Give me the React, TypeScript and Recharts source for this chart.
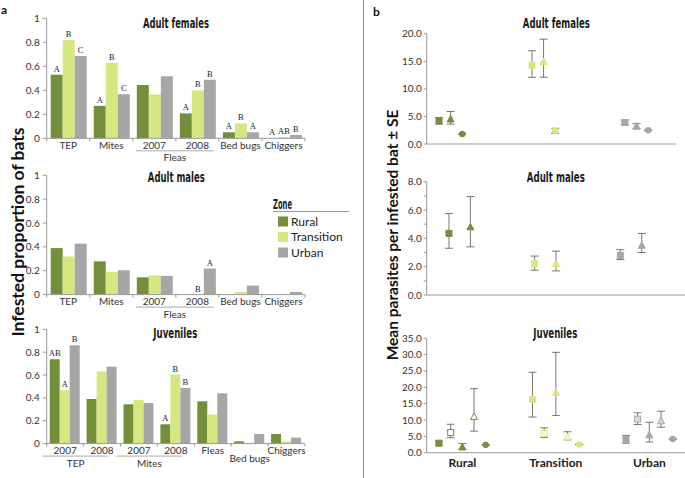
import React from 'react';
import { BarChart, Bar, XAxis, YAxis, LabelList, Legend, ScatterChart, Scatter, ErrorBar } from 'recharts';

const SANS = "Lato, 'Open Sans', 'DejaVu Sans', sans-serif";
const COND = "'Liberation Sans Narrow', 'DejaVu Sans Condensed', Roboto, sans-serif";
const SERIF = "'Liberation Serif', 'DejaVu Serif', serif";

const RURAL = '#748f3b';
const TRANS = '#d5e781';
const URBAN = '#a6a6a6';
const AXIS = '#9a9a9a';
const TEXT = '#333333';

// ---------------- (a) infested proportion ----------------
const zones = ['Rural', 'Transition', 'Urban'];
const adultCats = ['TEP', 'Mites', '2007', '2008', 'Bed bugs', 'Chiggers'];
const adultGroups = [{ label: 'Fleas', from: 2, to: 3 }];
const juvCats = ['2007', '2008', '2007', '2008', 'Fleas', 'Bed bugs', 'Chiggers'];
const juvGroups = [
  { label: 'TEP', from: 0, to: 1 },
  { label: 'Mites', from: 2, to: 3 },
];
const propTicks = [0, 0.2, 0.4, 0.6, 0.8, 1];

const femRural = [0.53, 0.27, 0.444, 0.208, 0.05, 0];
const femTrans = [0.82, 0.63, 0.367, 0.4, 0.125, 0.01];
const femUrban = [0.686, 0.367, 0.517, 0.488, 0.05, 0.028];
const femRuralLet = ['A', 'A', '', 'A', 'A', 'A'];
const femTransLet = ['B', 'B', '', 'B', 'B', 'AB'];
const femUrbanLet = ['C', 'C', '', 'B', 'A', 'B'];

const maleRural = [0.39, 0.279, 0.145, 0, 0, 0];
const maleTrans = [0.32, 0.19, 0.162, 0, 0.022, 0];
const maleUrban = [0.427, 0.204, 0.157, 0.218, 0.075, 0.022];
const maleRuralLet = ['', '', '', '', '', ''];
const maleTransLet = ['', '', '', 'B', '', ''];
const maleUrbanLet = ['', '', '', 'A', '', ''];

const juvRural = [0.738, 0.39, 0.344, 0.169, 0.37, 0.02, 0.084];
const juvTrans = [0.466, 0.633, 0.382, 0.604, 0.254, 0, 0.02];
const juvUrban = [0.86, 0.673, 0.355, 0.487, 0.44, 0.084, 0.052];
const juvRuralLet = ['AB', '', '', 'A', '', '', ''];
const juvTransLet = ['A', '', '', 'B', '', '', ''];
const juvUrbanLet = ['B', '', '', 'B', '', '', ''];

// ---------------- (b) mean parasites ----------------
const adultKinds = ['sq', 'tri', 'cir'];
const maleKinds = ['sq', 'tri'];
const juvKinds = ['sq', 'sqo', 'tri', 'trio', 'cir'];

const bFemRuralMean = [4.2, 4.5, 1.8];
const bFemRuralLo = [3.6, 3.6, 1.8];
const bFemRuralHi = [4.8, 5.9, 1.8];
const bFemTransMean = [14.3, 14.9, 2.4];
const bFemTransLo = [12.1, 12.1, 1.95];
const bFemTransHi = [16.9, 19.0, 2.85];
const bFemUrbanMean = [3.9, 3.2, 2.5];
const bFemUrbanLo = [3.55, 2.8, 2.5];
const bFemUrbanHi = [4.35, 3.7, 2.5];

const bMaleRuralMean = [4.35, 4.8];
const bMaleRuralLo = [3.3, 3.4];
const bMaleRuralHi = [5.75, 6.95];
const bMaleTransMean = [2.2, 2.2];
const bMaleTransLo = [1.75, 1.7];
const bMaleTransHi = [2.75, 3.1];
const bMaleUrbanMean = [2.8, 3.5];
const bMaleUrbanLo = [2.5, 3.0];
const bMaleUrbanHi = [3.2, 4.35];

const bJuvRuralMean = [2.9, 6.2, 1.7, 11.0, 2.4];
const bJuvRuralLo = [2.4, 4.6, 1.1, 6.6, 2.4];
const bJuvRuralHi = [3.3, 8.7, 2.8, 19.6, 2.4];
const bJuvTransMean = [16.3, 5.9, 18.4, 4.8, 2.5];
const bJuvTransLo = [10.9, 4.7, 11.4, 3.9, 2.5];
const bJuvTransHi = [24.6, 7.6, 30.7, 6.4, 2.5];
const bJuvUrbanMean = [4.1, 10.3, 5.4, 9.7, 4.2];
const bJuvUrbanLo = [2.9, 8.6, 3.3, 7.8, 4.2];
const bJuvUrbanHi = [5.3, 12.2, 9.3, 12.7, 4.2];

// ---------------- helpers ----------------
type Group = { label: string; from: number; to: number };

function makeBarTick(n: number, band: number, groups: Group[], shift: number, drop: number[]) {
  return (p: any) => {
    const { x, y, index } = p;
    const value = p.payload.value;
    const els: any[] = [];
    els.push(<line key="b" x1={x - band / 2} x2={x - band / 2} y1={y} y2={y + 3} stroke={AXIS} />);
    if (index === n - 1) {
      els.push(<line key="e" x1={x + band / 2} x2={x + band / 2} y1={y} y2={y + 3} stroke={AXIS} />);
    }
    els.push(
      <text key="t" x={x} y={y + 10.5 + (drop.includes(index) ? 7.5 : 0)} textAnchor="middle" fontSize={10} fill={TEXT} fontFamily={SANS}>
        {value}
      </text>
    );
    groups
      .filter((g) => g.from === index)
      .forEach((g) => {
        const x1 = x - band / 2 + 4 + shift;
        const x2 = x + (g.to - g.from) * band + band / 2 - 4 + shift;
        els.push(<line key={'gl' + g.label} x1={x1} x2={x2} y1={y + 12.5} y2={y + 12.5} stroke="#aaaaaa" />);
        els.push(
          <text key={'gt' + g.label} x={(x1 + x2) / 2} y={y + 23} textAnchor="middle" fontSize={10} fill={TEXT} fontFamily={SANS}>
            {g.label}
          </text>
        );
      });
    return <g>{els}</g>;
  };
}

const LegendContent = (props: any) => {
  const items = props.payload || [];
  return (
    <svg width={82} height={64} style={{ overflow: 'visible' }}>
      <text x={3} y={12} fontFamily={COND} fontWeight="bold" fontSize={13.5} fill="#222" textLength={19} lengthAdjust="spacingAndGlyphs">
        Zone
      </text>
      <line x1={3} x2={79} y1={14.5} y2={14.5} stroke="#999" />
      {items.map((it: any, i: number) => (
        <g key={it.value}>
          <rect x={8} y={19.5 + i * 15.5} width={10} height={10} fill={it.color} />
          <text x={21} y={28.5 + i * 15.5} fontFamily={SANS} fontSize={12} fill="#222">
            {it.value}
          </text>
        </g>
      ))}
    </svg>
  );
};

const tinyForZero = (v: any) => (Number(v) === 0 ? 0.01 : 0);

function BarPanel(props: {
  top: number;
  plotH: number;
  xAxisH: number;
  cats: string[];
  r: number[];
  t: number[];
  u: number[];
  rl: string[];
  tl: string[];
  ul: string[];
  groups: Group[];
  barSize: number;
  shift: number;
  drop: number[];
  legend?: boolean;
}) {
  const width = 310;
  const yW = 46.7;
  const mRight = 5;
  const mTop = 18.3;
  const plotW = width - yW - mRight;
  const band = plotW / props.cats.length;
  const height = mTop + props.plotH + props.xAxisH;
  const data = props.cats.map((c, i) => ({
    cat: c,
    rural: props.r[i],
    transition: props.t[i],
    urban: props.u[i],
    rL: props.rl[i],
    tL: props.tl[i],
    uL: props.ul[i],
  }));
  const labelStyle = { fontFamily: SERIF, fontSize: 8.5, fill: '#222' };
  return (
    <div style={{ position: 'absolute', left: 0, top: props.top }}>
      <BarChart width={width} height={height} data={data} margin={{ top: mTop, right: mRight, bottom: 0, left: 0 }} barGap={0} barSize={props.barSize}>
        <XAxis
          dataKey="cat"
          height={props.xAxisH}
          stroke={AXIS}
          tickLine={false}
          tickSize={0}
          tickMargin={0}
          interval={0}
          tick={makeBarTick(props.cats.length, band, props.groups, props.shift, props.drop)}
        />
        <YAxis
          domain={[0, 1]}
          ticks={propTicks}
          width={yW}
          stroke={AXIS}
          tickSize={4}
          tickMargin={3}
          tick={{ fontSize: 10, fill: TEXT, fontFamily: SANS }}
          tickFormatter={(v: number) => String(v)}
        />
        <Bar dataKey="rural" name={zones[0]} fill={RURAL} minPointSize={tinyForZero} isAnimationActive={false}>
          <LabelList dataKey="rL" position="top" offset={3} style={labelStyle} />
        </Bar>
        <Bar dataKey="transition" name={zones[1]} fill={TRANS} minPointSize={tinyForZero} isAnimationActive={false}>
          <LabelList dataKey="tL" position="top" offset={3} style={labelStyle} />
        </Bar>
        <Bar dataKey="urban" name={zones[2]} fill={URBAN} minPointSize={tinyForZero} isAnimationActive={false}>
          <LabelList dataKey="uL" position="top" offset={3} style={labelStyle} />
        </Bar>
        {props.legend ? (
          <Legend
            layout="vertical"
            align="center"
            verticalAlign="middle"
            content={LegendContent}
            wrapperStyle={{ left: 270, top: 39.5, width: 82, height: 64 }}
          />
        ) : null}
      </BarChart>
    </div>
  );
}

function makeShape(color: string, hollow: string) {
  return (p: any) => {
    const { cx, cy, payload } = p;
    const k: string = payload.kind;
    const open = k === 'sqo' || k === 'trio';
    const fill = open ? hollow : color;
    if (k.startsWith('sq')) {
      return <rect x={cx - 3} y={cy - 3} width={6} height={6} fill={fill} stroke={color} strokeWidth={1} />;
    }
    if (k.startsWith('tri')) {
      return (
        <polygon
          points={`${cx},${cy - 3.8} ${cx + 3.5},${cy + 2.8} ${cx - 3.5},${cy + 2.8}`}
          fill={fill}
          stroke={color}
          strokeWidth={1}
        />
      );
    }
    return <circle cx={cx} cy={cy} r={3.2} fill={color} />;
  };
}

function pts(g: number, slot: number, kinds: string[], mean: number[], lo: number[], hi: number[]) {
  return mean.map((m, i) => ({
    x: g * slot + i,
    y: m,
    kind: kinds[i],
    err: [m - lo[i], hi[i] - m],
  }));
}

function makeYTick(every: number) {
  return (p: any) => {
    const v = p.payload.value;
    if (Math.round(v * 100) % Math.round(every * 100) !== 0) return <g />;
    return (
      <text x={p.x} y={p.y} dy={3.5} textAnchor="end" fontSize={10} fill={TEXT} fontFamily={SANS}>
        {v.toFixed(1)}
      </text>
    );
  };
}

const zoneColors = [RURAL, TRANS, URBAN];
const zoneHollow = ['#ffffff', '#f4f9dc', '#d9d9d9'];

function ScatterPanel(props: {
  top: number;
  width: number;
  mTop: number;
  mRight: number;
  plotH: number;
  xAxisH: number;
  domainX: [number, number];
  yMax: number;
  yTicks: number[];
  every: number;
  series: any[][];
  xLabels?: boolean;
  slot: number;
}) {
  const height = props.mTop + props.plotH + props.xAxisH;
  const groupTicks = zones.map((_, g) => g * props.slot + 2);
  const XTick = (p: any) => {
    const idx = groupTicks.indexOf(p.payload.value);
    return (
      <text x={p.x} y={p.y + 14.5} textAnchor="middle" fontSize={12} fontWeight="bold" fill="#222" fontFamily={SANS}>
        {zones[idx]}
      </text>
    );
  };
  return (
    <div style={{ position: 'absolute', left: 370, top: props.top }}>
      <ScatterChart width={props.width} height={height} margin={{ top: props.mTop, right: props.mRight, bottom: 0, left: 0 }}>
        <XAxis
          type="number"
          dataKey="x"
          domain={props.domainX}
          allowDataOverflow
          height={props.xAxisH}
          stroke={AXIS}
          tickLine={false}
          tickSize={0}
          tickMargin={0}
          ticks={props.xLabels ? groupTicks : []}
          tick={props.xLabels ? XTick : false}
          interval={0}
        />
        <YAxis
          type="number"
          dataKey="y"
          domain={[0, props.yMax]}
          allowDataOverflow
          ticks={props.yTicks}
          interval={0}
          width={56.7}
          stroke={AXIS}
          tickSize={3}
          tickMargin={2}
          tick={makeYTick(props.every)}
        />
        {props.series.map((data, g) => (
          <Scatter
            key={zones[g]}
            name={zones[g]}
            data={data}
            fill={zoneColors[g]}
            shape={makeShape(zoneColors[g], zoneHollow[g])}
            isAnimationActive={false}
          >
            <ErrorBar dataKey="err" direction="y" width={4} stroke="#555555" strokeWidth={0.8} />
          </Scatter>
        ))}
      </ScatterChart>
    </div>
  );
}

function Title({ x, y, w, text }: { x: number; y: number; w: number; text: string }) {
  return (
    <text x={x} y={y} textAnchor="middle" fontFamily={COND} fontWeight="bold" fontSize={13.5} fill="#1a1a1a" textLength={w} lengthAdjust="spacingAndGlyphs">
      {text}
    </text>
  );
}

export default function App() {
  const femSeries = [
    pts(0, 8, adultKinds, bFemRuralMean, bFemRuralLo, bFemRuralHi),
    pts(1, 8, adultKinds, bFemTransMean, bFemTransLo, bFemTransHi),
    pts(2, 8, adultKinds, bFemUrbanMean, bFemUrbanLo, bFemUrbanHi),
  ];
  const maleSeries = [
    pts(0, 4, maleKinds, bMaleRuralMean, bMaleRuralLo, bMaleRuralHi),
    pts(1, 4, maleKinds, bMaleTransMean, bMaleTransLo, bMaleTransHi),
    pts(2, 4, maleKinds, bMaleUrbanMean, bMaleUrbanLo, bMaleUrbanHi),
  ];
  const juvSeries = [
    pts(0, 8, juvKinds, bJuvRuralMean, bJuvRuralLo, bJuvRuralHi),
    pts(1, 8, juvKinds, bJuvTransMean, bJuvTransLo, bJuvTransHi),
    pts(2, 8, juvKinds, bJuvUrbanMean, bJuvUrbanLo, bJuvUrbanHi),
  ];
  return (
    <div style={{ position: 'absolute', left: 0, top: 0, width: 685, height: 478, background: '#ffffff', overflow: 'hidden' }}>
      <BarPanel top={0} plotH={120} xAxisH={27.7} cats={adultCats} r={femRural} t={femTrans} u={femUrban} rl={femRuralLet} tl={femTransLet} ul={femUrbanLet} groups={adultGroups} barSize={12} shift={-1} drop={[]} />
      <BarPanel top={157.4} plotH={119.3} xAxisH={27.7} cats={adultCats} r={maleRural} t={maleTrans} u={maleUrban} rl={maleRuralLet} tl={maleTransLet} ul={maleUrbanLet} groups={adultGroups} barSize={12} shift={-1} drop={[]} legend />
      <BarPanel top={310.7} plotH={114.3} xAxisH={34} cats={juvCats} r={juvRural} t={juvTrans} u={juvUrban} rl={juvRuralLet} tl={juvTransLet} ul={juvUrbanLet} groups={juvGroups} barSize={10} shift={-8} drop={[5]} />

      <ScatterPanel top={0} width={316} mTop={33.7} mRight={10} plotH={110.3} xAxisH={6} domainX={[-1.06, 20.4]} yMax={20} yTicks={[0, 5, 10, 15, 20]} every={5} series={femSeries} slot={8} />
      <ScatterPanel top={160} width={315} mTop={21.7} mRight={0} plotH={113.3} xAxisH={6} domainX={[-1.04, 11.02]} yMax={8} yTicks={[0, 1, 2, 3, 4, 5, 6, 7, 8]} every={2} series={maleSeries} slot={4} />
      <ScatterPanel top={310} width={315} mTop={28.3} mRight={0} plotH={114.4} xAxisH={25.3} domainX={[-1.05, 21.05]} yMax={35} yTicks={[0, 5, 10, 15, 20, 25, 30, 35]} every={5} series={juvSeries} slot={8} xLabels />

      <svg width={685} height={478} style={{ position: 'absolute', left: 0, top: 0, pointerEvents: 'none' }}>
        <line x1={363.5} x2={363.5} y1={0} y2={478} stroke="#8c8c8c" strokeWidth={1} />
        <text x={1} y={14} fontFamily={SANS} fontWeight="bold" fontSize={12} fill="#111">a</text>
        <text x={373} y={16} fontFamily={SANS} fontWeight="bold" fontSize={12} fill="#111">b</text>
        <Title x={176} y={28} w={66} text="Adult females" />
        <Title x={176.3} y={181.5} w={57} text="Adult males" />
        <Title x={175.3} y={338} w={44} text="Juveniles" />
        <Title x={556.3} y={28} w={67} text="Adult females" />
        <Title x={555.8} y={181.5} w={58} text="Adult males" />
        <Title x={555.3} y={338} w={44} text="Juveniles" />
        <text transform="translate(24,232) rotate(-90)" textAnchor="middle" fontFamily={SANS} fontWeight="bold" fontSize={17.5} fill="#111">
          Infested proportion of bats
        </text>
        <text transform="translate(398,235) rotate(-90)" textAnchor="middle" fontFamily={SANS} fontWeight="bold" fontSize={15.5} fill="#111">
          Mean parasites per infested bat ± SE
        </text>
      </svg>
    </div>
  );
}
